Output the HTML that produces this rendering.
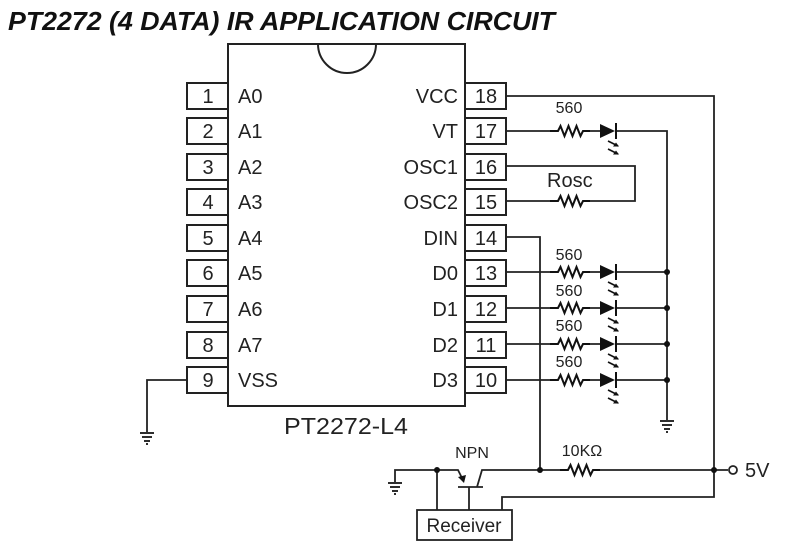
<!DOCTYPE html>
<html><head><style>body{margin:0;background:#fff}svg{display:block}</style></head><body>
<svg width="789" height="555" viewBox="0 0 789 555" xmlns="http://www.w3.org/2000/svg" font-family="Liberation Sans, Arial, sans-serif">
<defs>
<g id="res"><path d="M0 0 H8 L10.5 -5 L14.5 5 L18.5 -5 L22.5 5 L26.5 -5 L30.5 5 L33 0 H40" fill="none" stroke="#111" stroke-width="2"/></g>
<g id="led"><path d="M0 -7 L15 0 L0 7 Z" fill="#111"/><line x1="16" y1="-8" x2="16" y2="8" stroke="#111" stroke-width="2"/>
<path d="M8 10 L18 15 M8 18 L18 23" stroke="#111" stroke-width="1.6"/><path d="M19 15.5 L13 15.5 L16 11.5Z M19 23.5 L13 23.5 L16 19.5Z" fill="#111"/></g>
<g id="gnd"><path d="M-7 0 H7 M-5 4 H5 M-3 8 H3 M-1 11 H1" stroke="#111" stroke-width="1.8"/></g>
</defs>
<text x="8" y="30" font-size="26" font-weight="bold" font-style="italic" fill="#111" textLength="547" lengthAdjust="spacingAndGlyphs">PT2272 (4 DATA) IR APPLICATION CIRCUIT</text>
<g stroke="#222" stroke-width="2" fill="none">
<path d="M228 44 H465 V406 H228 Z"/>
<path d="M318 44 A29 29 0 0 0 376 44"/>
</g>
<g stroke="#222" stroke-width="2" fill="#fff">
<rect x="187" y="83" width="41" height="26"/><rect x="187" y="118" width="41" height="26"/><rect x="187" y="154" width="41" height="26"/><rect x="187" y="189" width="41" height="26"/><rect x="187" y="225" width="41" height="26"/><rect x="187" y="260" width="41" height="26"/><rect x="187" y="296" width="41" height="26"/><rect x="187" y="332" width="41" height="26"/><rect x="187" y="367" width="41" height="26"/>
<rect x="465" y="83" width="41" height="26"/><rect x="465" y="118" width="41" height="26"/><rect x="465" y="154" width="41" height="26"/><rect x="465" y="189" width="41" height="26"/><rect x="465" y="225" width="41" height="26"/><rect x="465" y="260" width="41" height="26"/><rect x="465" y="296" width="41" height="26"/><rect x="465" y="332" width="41" height="26"/><rect x="465" y="367" width="41" height="26"/>
</g>
<g font-size="20" fill="#222">
<g text-anchor="middle">
<text x="208" y="103">1</text><text x="208" y="138">2</text><text x="208" y="174">3</text><text x="208" y="209">4</text><text x="208" y="245">5</text><text x="208" y="280">6</text><text x="208" y="316">7</text><text x="208" y="352">8</text><text x="208" y="387">9</text>
<text x="486" y="103">18</text><text x="486" y="138">17</text><text x="486" y="174">16</text><text x="486" y="209">15</text><text x="486" y="245">14</text><text x="486" y="280">13</text><text x="486" y="316">12</text><text x="486" y="352">11</text><text x="486" y="387">10</text>
</g>
<text x="238" y="103">A0</text><text x="238" y="138">A1</text><text x="238" y="174">A2</text><text x="238" y="209">A3</text><text x="238" y="245">A4</text><text x="238" y="280">A5</text><text x="238" y="316">A6</text><text x="238" y="352">A7</text><text x="238" y="387">VSS</text>
<g text-anchor="end">
<text x="458" y="103">VCC</text><text x="458" y="138">VT</text><text x="458" y="174">OSC1</text><text x="458" y="209">OSC2</text><text x="458" y="245">DIN</text><text x="458" y="280">D0</text><text x="458" y="316">D1</text><text x="458" y="352">D2</text><text x="458" y="387">D3</text>
</g>
<text x="284" y="434" font-size="23" textLength="124" lengthAdjust="spacingAndGlyphs">PT2272-L4</text>
<text x="547" y="187">Rosc</text>
<text x="745" y="477">5V</text>
</g>
<g font-size="16" fill="#222" text-anchor="middle">
<text x="569" y="113">560</text><text x="569" y="260">560</text><text x="569" y="296">560</text><text x="569" y="331">560</text><text x="569" y="367">560</text>
<text x="472" y="458">NPN</text><text x="582" y="456">10KΩ</text>
</g>
<g stroke="#222" stroke-width="1.8" fill="none">
<path d="M506 96 H714 V497 H502 V510"/>
<path d="M506 131 H550 M590 131 H600 M616 131 H667 V420"/>
<path d="M506 166 H635 V201 H590 M550 201 H506"/>
<path d="M506 237 H540 V470"/>
<path d="M506 272 H550 M590 272 H600 M616 272 H667"/>
<path d="M506 308 H550 M590 308 H600 M616 308 H667"/>
<path d="M506 344 H550 M590 344 H600 M616 344 H667"/>
<path d="M506 380 H550 M590 380 H600 M616 380 H667"/>
<path d="M187 380 H147 V432"/>
<path d="M395 482 V470 H458 L462 478 M469 487 V510 M437 470 V510"/>
<path d="M458 487 H483 M477 487 L482 470 H560 M600 470 H728"/>
<rect x="417" y="510" width="95" height="30"/>
<circle cx="733" cy="470" r="4" fill="#fff"/>
</g>
<path d="M464 483 L458 477 L466 475Z" fill="#111"/>
<use href="#res" x="550" y="131"/><use href="#res" x="550" y="201"/><use href="#res" x="550" y="272"/><use href="#res" x="550" y="308"/><use href="#res" x="550" y="344"/><use href="#res" x="550" y="380"/><use href="#res" x="560" y="470"/>
<use href="#led" x="600" y="131"/><use href="#led" x="600" y="272"/><use href="#led" x="600" y="308"/><use href="#led" x="600" y="344"/><use href="#led" x="600" y="380"/>
<use href="#gnd" x="147" y="433"/><use href="#gnd" x="667" y="421"/><use href="#gnd" x="395" y="483"/>
<g fill="#111"><circle cx="667" cy="272" r="3"/><circle cx="667" cy="308" r="3"/><circle cx="667" cy="344" r="3"/><circle cx="667" cy="380" r="3"/><circle cx="540" cy="470" r="3"/><circle cx="437" cy="470" r="3"/><circle cx="714" cy="470" r="3"/></g>
<text x="464" y="532" font-size="19" fill="#222" text-anchor="middle">Receiver</text>
</svg>
</body></html>
